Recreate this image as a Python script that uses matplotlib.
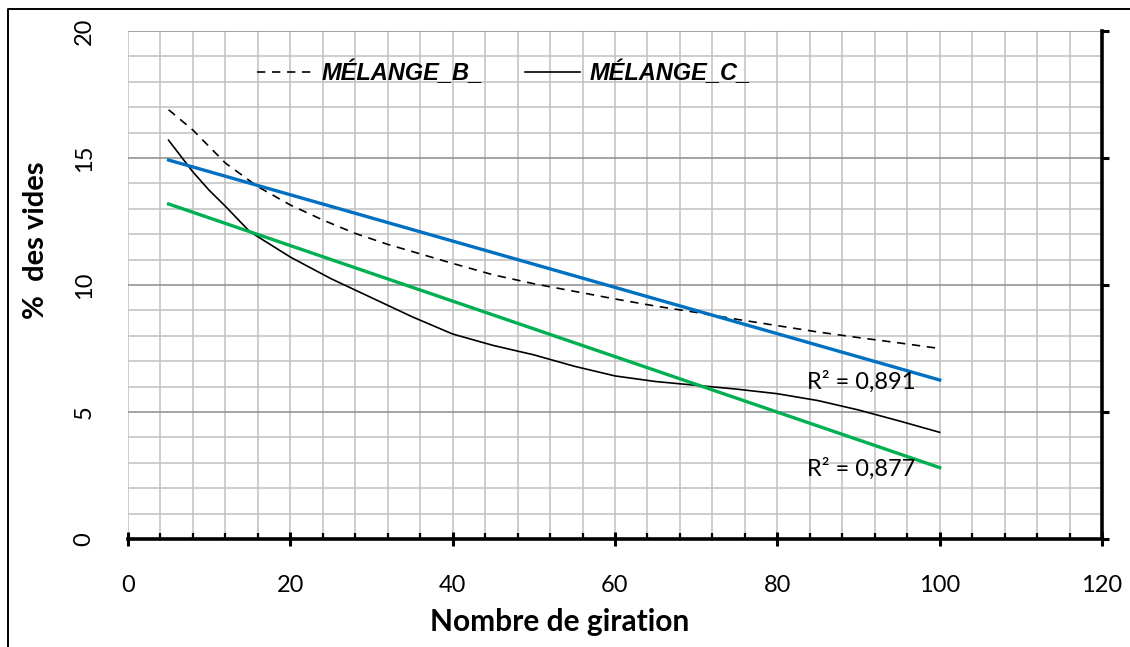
import matplotlib
matplotlib.use("Agg")
import matplotlib.pyplot as plt
from matplotlib.lines import Line2D
from matplotlib.ticker import MultipleLocator

# gyration numbers and air voids
giration_B = [5, 8, 10, 12, 16, 20, 24, 28, 32, 40, 45, 50, 55, 60, 65, 70, 75, 80, 85, 90, 95, 100]
vides_B = [16.9, 16.1, 15.45, 14.8, 13.87, 13.15, 12.56, 12.03, 11.6, 10.85, 10.4, 10.05,
           9.75, 9.45, 9.17, 8.92, 8.65, 8.4, 8.15, 7.93, 7.72, 7.5]

giration_C = [5, 8, 10, 12, 15, 20, 25, 30, 35, 40, 45, 50, 55, 60, 65, 70, 75, 80, 85, 90, 95, 100]
vides_C = [15.7, 14.45, 13.73, 13.1, 12.1, 11.1, 10.25, 9.5, 8.75, 8.07, 7.62, 7.25,
           6.8, 6.42, 6.2, 6.05, 5.9, 5.72, 5.45, 5.08, 4.65, 4.2]

# linear trend lines (end points)
trend_x = [5, 100]
trend_B = [14.92, 6.26]
trend_C = [13.19, 2.81]
r2_B = "R² = 0,891"
r2_C = "R² = 0,877"

plt.rcParams['font.family'] = ['Lato', 'DejaVu Sans']

fig = plt.figure(figsize=(11.30, 6.47), dpi=100)
ax = fig.add_axes([128/1130, 1 - 539/647, (1102-128)/1130, (539-31)/647])

ax.plot(giration_B, vides_B, color='black', lw=1.2, ls=(0, (5, 4)), label='MÉLANGE_B_', zorder=3)
ax.plot(giration_C, vides_C, color='black', lw=1.2, label='MÉLANGE_C_', zorder=3)
ax.plot(trend_x, trend_B, color='#0070C0', lw=2.4, zorder=4)
ax.plot(trend_x, trend_C, color='#00B050', lw=2.4, zorder=4)

ax.text(83.6, 6.18, r2_B, fontsize=17, va='center', ha='left', zorder=5)
ax.text(83.6, 2.78, r2_C, fontsize=17, va='center', ha='left', zorder=5)

ax.set_xlim(0, 120)
ax.set_ylim(0, 20)
ax.xaxis.set_major_locator(MultipleLocator(20))
ax.xaxis.set_minor_locator(MultipleLocator(4))
ax.yaxis.set_major_locator(MultipleLocator(5))
ax.yaxis.set_minor_locator(MultipleLocator(1))

ax.grid(True, which='minor', color='#c0c0c0', lw=1.1)
ax.grid(True, which='major', axis='x', color='#c0c0c0', lw=1.1)
ax.grid(True, which='major', axis='y', color='#8c8c8c', lw=1.1)
ax.set_axisbelow(True)

for s in ['left', 'top']:
    ax.spines[s].set_visible(False)
ax.spines['bottom'].set_linewidth(2.6)
ax.spines['right'].set_linewidth(2.6)

ax.tick_params(axis='x', which='major', direction='inout', length=10, width=2.2,
               labelsize=17, pad=21)
ax.tick_params(axis='x', which='minor', direction='in', length=4, width=1.6)
ax.tick_params(axis='y', which='both', left=False, right=True, labelleft=True,
               labelright=False, labelsize=17, pad=19)
ax.tick_params(axis='y', which='major', direction='out', length=5, width=2.2)
ax.tick_params(axis='y', which='minor', right=False)
for lab in ax.get_yticklabels():
    lab.set_rotation(90)
    lab.set_va('center')

ax.set_xlabel('Nombre de giration', fontsize=21.5, fontweight='bold', labelpad=6)
ax.xaxis.set_label_coords(0.443, -0.135)
fig.text(36/1130, 1 - 240/647, '%  des vides', fontsize=21, fontweight='bold',
         rotation=90, ha='center', va='center')

ax.legend(loc='center', bbox_to_anchor=(0.386, 0.917), ncol=2, frameon=False,
          handlelength=2.3, handletextpad=0.42, columnspacing=1.8, borderpad=0,
          prop={'family': ['Liberation Sans Narrow', 'Liberation Sans'],
                'weight': 'bold', 'style': 'italic', 'size': 17})

# outer frame (partly cut off at right and bottom)
fig.add_artist(Line2D([8/1130, 8/1130, 1], [0, 1 - 9/647, 1 - 9/647],
                      transform=fig.transFigure, color='black', lw=1.4))

fig.savefig('out.png', dpi=100)
